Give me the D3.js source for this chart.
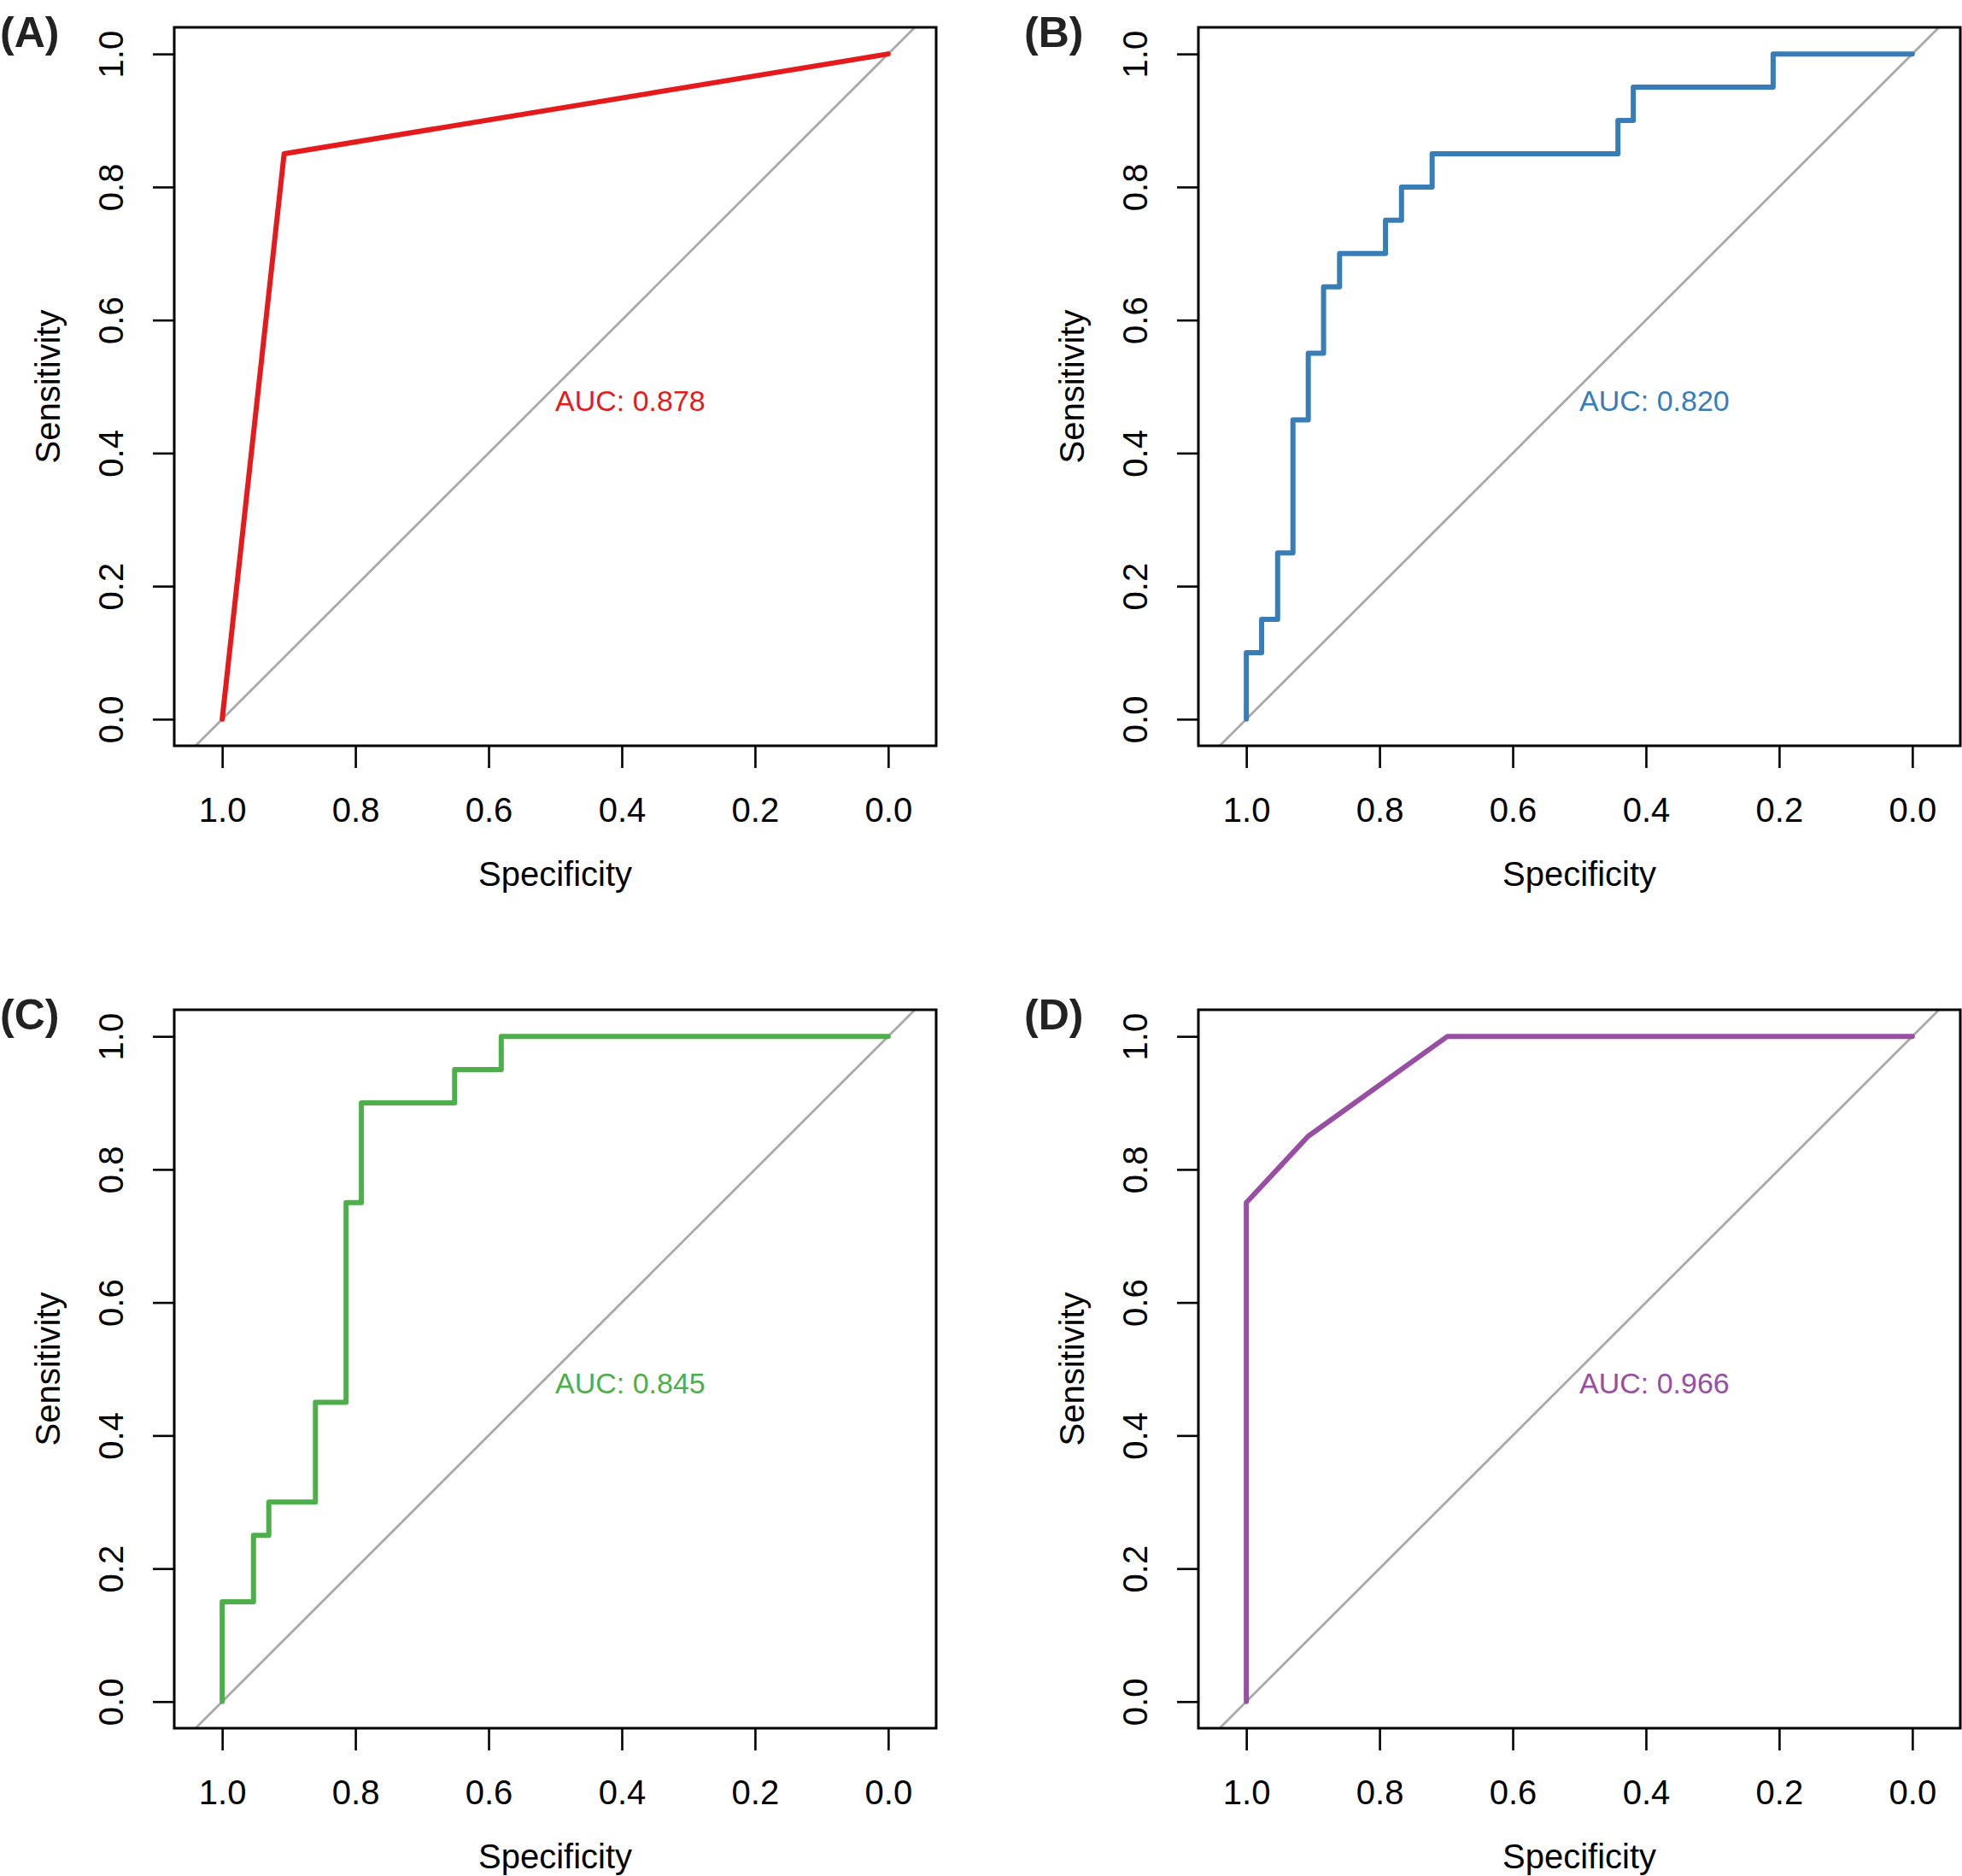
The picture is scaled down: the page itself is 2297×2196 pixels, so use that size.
<!DOCTYPE html>
<html>
<head>
<meta charset="utf-8">
<script src="https://cdn.jsdelivr.net/npm/d3@7"></script>
<style>
  body { margin: 0; background: #fff; }
  text { font-family: "Liberation Sans", Arial, sans-serif; }
</style>
</head>
<body>
<div id="chart-area"></div>
<script>
// ROC curves, points as (specificity, sensitivity)
var specA = [1.000, 0.907, 0.000];
var sensA = [0.00, 0.85, 1.00];

var specB = [1.000, 1.000, 0.977, 0.977, 0.953, 0.953, 0.930, 0.930, 0.907, 0.907, 0.884, 0.884, 0.860, 0.860,
             0.791, 0.791, 0.767, 0.767, 0.721, 0.721, 0.442, 0.442, 0.419, 0.419, 0.209, 0.209, 0.000];
var sensB = [0.00, 0.10, 0.10, 0.15, 0.15, 0.25, 0.25, 0.45, 0.45, 0.55, 0.55, 0.65, 0.65, 0.70,
             0.70, 0.75, 0.75, 0.80, 0.80, 0.85, 0.85, 0.90, 0.90, 0.95, 0.95, 1.00, 1.00];

var specC = [1.000, 1.000, 0.953, 0.953, 0.930, 0.930, 0.860, 0.860, 0.814, 0.814, 0.791, 0.791, 0.651, 0.651, 0.581, 0.581, 0.000];
var sensC = [0.00, 0.15, 0.15, 0.25, 0.25, 0.30, 0.30, 0.45, 0.45, 0.75, 0.75, 0.90, 0.90, 0.95, 0.95, 1.00, 1.00];

var specD = [1.000, 1.000, 0.907, 0.698, 0.000];
var sensD = [0.00, 0.75, 0.85, 1.00, 1.00];

var panelLabels = ["(A)", "(B)", "(C)", "(D)"];
var aucLabels = ["AUC: 0.878", "AUC: 0.820", "AUC: 0.845", "AUC: 0.966"];
var xTicks = [1.0, 0.8, 0.6, 0.4, 0.2, 0.0];
var yTicks = [0.0, 0.2, 0.4, 0.6, 0.8, 1.0];

var colors = ["#E41A1C", "#377EB8", "#4DAF4A", "#984EA3"];

var W = 2297, H = 2196;
var offsets = [[0, 0], [1199, 0], [0, 1150], [1199, 1150]];
var box = {left: 204, right: 1096, top: 32, bottom: 873};

var curves = [[specA, sensA], [specB, sensB], [specC, sensC], [specD, sensD]];

var svg = d3.select("#chart-area")
	.append("svg")
		.attr("width", W)
		.attr("height", H);

svg.append("rect").attr("width", W).attr("height", H).attr("fill", "#fff");

// plot region extends 4% past 0..1 vertically, a bit more horizontally (square aspect)
var x = d3.scaleLinear().domain([1.072, -0.072]).range([box.left, box.right]);
var y = d3.scaleLinear().domain([-0.04, 1.04]).range([box.bottom, box.top]);

var fmt = d3.format(".1f");

curves.forEach(function(c, i){
	var g = svg.append("g")
		.attr("transform", "translate(" + offsets[i][0] + "," + offsets[i][1] + ")");

	var clipId = "clip" + i;
	g.append("clipPath").attr("id", clipId)
		.append("rect")
			.attr("x", box.left).attr("y", box.top)
			.attr("width", box.right - box.left).attr("height", box.bottom - box.top);

	// chance line
	g.append("line")
		.attr("clip-path", "url(#" + clipId + ")")
		.attr("x1", x(1.2)).attr("y1", y(-0.2))
		.attr("x2", x(-0.2)).attr("y2", y(1.2))
		.attr("stroke", "#A9A9A9")
		.attr("stroke-width", 2.8);

	// x axis
	var xa = g.append("g")
		.attr("transform", "translate(0," + box.bottom + ")")
		.call(d3.axisBottom(x).tickValues(xTicks).tickFormat(fmt).tickSize(26));
	xa.select(".domain").remove();
	xa.selectAll(".tick line").attr("stroke", "#000").attr("stroke-width", 2.6);
	xa.selectAll(".tick text")
		.attr("y", 89).attr("dy", null)
		.attr("fill", "#000")
		.attr("font-size", "40px")
		.attr("font-family", "Liberation Sans, Arial, sans-serif");

	// y axis, labels rotated as in base R
	var ya = g.append("g")
		.attr("transform", "translate(" + box.left + ",0)")
		.call(d3.axisLeft(y).tickValues(yTicks).tickFormat(fmt).tickSize(25));
	ya.select(".domain").remove();
	ya.selectAll(".tick line").attr("stroke", "#000").attr("stroke-width", 2.6);
	ya.selectAll(".tick text")
		.attr("x", 0).attr("y", -60).attr("dy", null)
		.attr("transform", "rotate(-90)")
		.attr("text-anchor", "middle")
		.attr("fill", "#000")
		.attr("font-size", "40px")
		.attr("font-family", "Liberation Sans, Arial, sans-serif");

	// curve
	var pts = c[0].map(function(s, j){ return [s, c[1][j]]; });
	g.append("path")
		.datum(pts)
		.attr("fill", "none")
		.attr("stroke", colors[i])
		.attr("stroke-width", 6)
		.attr("stroke-linejoin", "round")
		.attr("stroke-linecap", "round")
		.attr("d", d3.line().x(function(d){ return x(d[0]); }).y(function(d){ return y(d[1]); }));

	// frame
	g.append("rect")
		.attr("x", box.left).attr("y", box.top)
		.attr("width", box.right - box.left).attr("height", box.bottom - box.top)
		.attr("fill", "none")
		.attr("stroke", "#000")
		.attr("stroke-width", 3);

	g.append("text")
		.attr("x", x(0.5))
		.attr("y", y(0.5) + 28)
		.attr("font-size", "34px")
		.attr("fill", colors[i])
		.text(aucLabels[i]);

	g.append("text")
		.attr("x", (box.left + box.right) / 2)
		.attr("y", 1037)
		.attr("text-anchor", "middle")
		.attr("font-size", "40px")
		.attr("fill", "#000")
		.text("Specificity");

	g.append("text")
		.attr("transform", "translate(70," + ((box.top + box.bottom) / 2) + ") rotate(-90)")
		.attr("text-anchor", "middle")
		.attr("font-size", "40px")
		.attr("fill", "#000")
		.text("Sensitivity");

	g.append("text")
		.attr("x", 0)
		.attr("y", 55)
		.attr("font-size", "50px")
		.attr("font-weight", "bold")
		.attr("fill", "#222")
		.text(panelLabels[i]);
});
</script>
</body>
</html>
